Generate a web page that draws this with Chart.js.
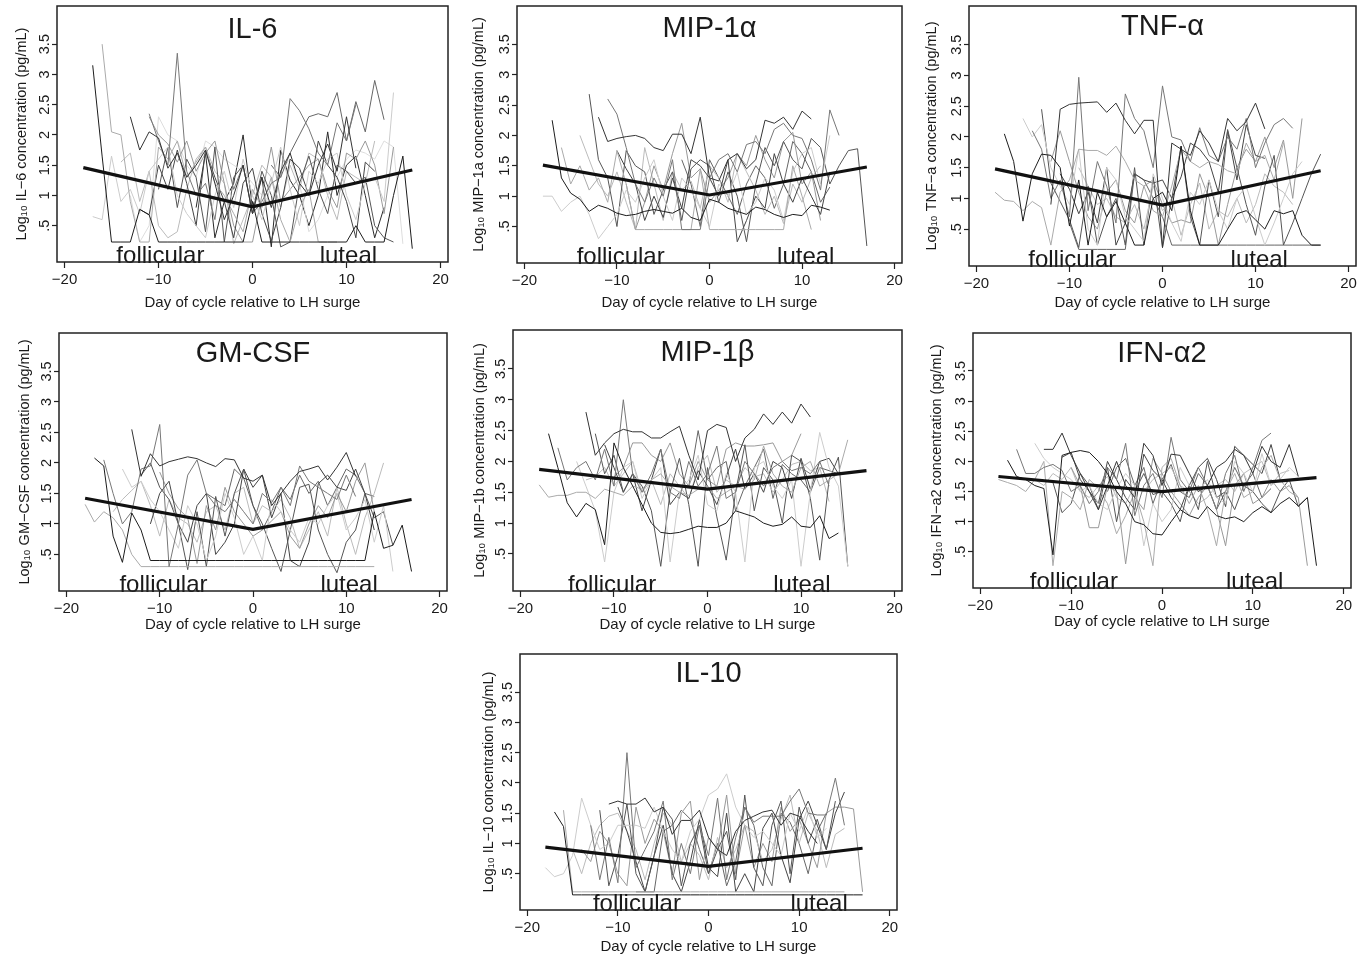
<!DOCTYPE html>
<html lang="en">
<head>
<meta charset="utf-8">
<title>Cytokines across the menstrual cycle</title>
<script src="https://cdn.jsdelivr.net/npm/chart.js@4.4.1/dist/chart.umd.min.js"></script>
<style>
  body { margin: 0; background: #fff; width: 1363px; height: 961px; overflow: hidden; position: relative; }
  canvas { position: absolute; }
</style>
</head>
<body>
<canvas id="c0"></canvas>
<canvas id="c1"></canvas>
<canvas id="c2"></canvas>
<canvas id="c3"></canvas>
<canvas id="c4"></canvas>
<canvas id="c5"></canvas>
<canvas id="c6"></canvas>
<script>
// ---- shared axis data
const X_TICKS = [-20, -10, 0, 10, 20];
const Y_TICKS = [0.5, 1, 1.5, 2, 2.5, 3, 3.5];
const TREND_DAYS = [-18, 0, 17];

const TITLES = ['IL-6', 'MIP-1\u03b1', 'TNF-\u03b1', 'GM-CSF', 'MIP-1\u03b2', 'IFN-\u03b12', 'IL-10'];
const Y_NAMES = ['IL\u22126', 'MIP\u22121a', 'TNF\u2212a', 'GM\u2212CSF', 'MIP\u22121b', 'IFN\u2212a2', 'IL\u221210'];

// ---- IL-6
const IL6_START = [-17, -13, -11, -16, -17, -10, -12, -11, -14, 2, -13, -6];
const IL6_LINES = [
  [3.15,1.65,0.23,0.23,0.23,0.77,0.68,0.23,0.23,0.23,0.23,0.23,0.23,0.23,0.23,0.23,0.23,0.9,0.23,0.23,0.23,0.23,0.23,0.23,0.23,0.23,0.23,0.23,0.5,0.23,0.23,0.23,1.0,1.65,0.12],
  [2.3,1.75,2.05,1.95,1.45,1.7,1.3,1.5,1.75,1.2,0.6,1.0,1.5,0.7,1.3,0.8,1.4,1.7,1.2,1.0,1.5,1.85,1.4,2.3,1.45],
  [2.35,1.9,1.5,3.35,1.4,1.0,1.2,0.6,1.75,1.1,1.5,0.7,0.9,1.2,1.3,2.6,2.4,2.1,1.7,1.5,2.2,1.9,2.5],
  [3.5,2.05,2.0,0.9,0.23,0.23,1.8,1.6,1.9,1.3,1.55,1.8,1.2,1.0,0.7,0.4,1.1,0.8,1.3,0.6,0.23,0.8,1.1,0.23,0.23,0.23],
  [0.65,0.6,1.65,0.9,1.1,0.7,1.4,1.6,1.8,1.0,0.7,0.5,0.3,1.0,1.4,0.8,1.6,1.0,0.6,1.2,1.8,1.1,0.5,1.4,1.2,1.6,1.7,1.0,0.6,1.2,1.3,0.9,2.7],
  [1.1,1.8,0.8,1.6,1.3,0.4,1.8,0.23,1.3,1.5,0.7,1.4,1.0,0.15,0.23,1.2,1.65,1.1,0.7,1.5,1.4,1.2,1.3,0.5,0.3,0.23],
  [0.77,0.68,1.5,1.1,1.75,1.2,0.5,1.75,1.3,0.9,0.3,1.2,1.45,0.7,0.25,0.8,1.6,1.45,1.0,1.9,1.5,1.3,0.9,0.3,1.55,1.4],
  [2.3,2.0,1.85,1.55,1.9,1.4,1.7,1.9,1.2,0.5,0.23,0.23,1.0,1.8,0.9,1.1,1.3,1.5,1.6,1.1,0.8,1.7,1.6,1.9,1.5,0.7,1.8],
  [1.55,1.7,0.9,1.4,0.5,0.3,0.4,1.1,1.6,1.8,1.4,1.2,0.2,0.6,1.0,1.5,1.3,0.8,1.5,1.1,1.7,1.6,1.0,0.6,1.4,1.3,1.2,1.9],
  [1.5,1.3,1.7,2.0,2.3,2.35,2.3,2.7,1.9,2.55,2.05,2.9,2.25],
  [1.0,0.23,0.5,2.3,2.0,1.9,1.5,1.3,1.9,1.8,1.6,1.5,1.4,1.2,1.0,0.9,1.4,1.6,1.2,0.4,0.6,1.0,1.3,1.6,1.75,1.7,1.6,1.9,1.8,0.2],
  [0.8,1.7,0.3,0.9,1.2,2.0,0.8,1.3,0.15,1.75,1.25,1.0,0.5,1.0,2.05,1.0,1.5,1.65,1.0,0.3,0.8]
];
const IL6_TREND = [1.46, 0.81, 1.42];

// ---- MIP-1alpha
const MIP1A_START = [-17, -12, -11, -16, -18, -13, -10, -9, -14, -3];
const MIP1A_LINES = [
  [2.25,1.3,1.05,0.95,0.75,0.85,0.8,0.72,0.68,0.7,0.75,0.78,0.75,0.72,0.8,0.65,0.6,0.95,0.9,0.8,0.75,0.7,0.82,0.78,0.7,0.65,0.7,0.68,0.85,0.82,0.77],
  [2.3,1.9,1.95,1.98,2.0,1.95,1.8,1.75,2.02,2.02,1.7,2.3,1.3,1.25,1.6,1.7,1.45,1.6,2.25,2.2,2.3,2.1,2.4,2.27],
  [2.6,2.35,1.8,1.2,0.9,1.3,1.0,1.6,0.45,0.45,0.45,1.3,1.6,1.7,1.4,1.85,1.9,1.7,2.1,2.2,2.0,1.95,1.6,1.1,2.42,2.0],
  [1.8,1.2,1.5,1.1,1.3,0.9,1.75,1.2,0.45,0.45,0.45,0.45,0.45,0.45,0.45,1.45,0.45,0.45,0.45,0.45,0.45,0.45,0.45,0.45,0.45,1.5,1.0,0.45],
  [1.0,1.0,0.75,0.9,1.0,0.7,0.3,0.5,0.7,1.1,0.9,1.3,1.6,1.0,0.6,1.3,1.1,0.8,0.5,1.2,1.0,1.4,0.7,0.9,1.3,1.1,0.6,1.4,1.7,1.8,1.2,2.0],
  [2.68,1.6,1.3,0.5,1.75,1.5,1.4,0.7,1.1,1.4,0.6,1.45,1.6,1.5,0.9,1.4,1.0,0.25,1.2,1.8,1.5,1.9,1.6,1.45,1.95,1.8,1.2,1.5,1.75,1.78,0.18],
  [1.75,1.45,1.2,0.6,1.0,0.65,1.3,0.8,1.6,1.5,1.3,1.0,1.6,0.25,0.6,1.0,0.8,1.7,1.2,0.9,1.3,1.0,0.7,1.4],
  [1.2,0.45,0.9,1.5,1.1,1.7,2.2,1.3,1.45,0.9,1.1,1.3,1.7,1.5,2.0,1.6,1.3,1.9,2.05,1.2,1.4,0.6],
  [2.0,1.6,1.2,1.0,1.4,0.9,0.45,1.8,1.2,0.6,1.4,1.1,1.25,0.8,1.5,1.3,0.9,1.7,1.4,1.1,0.7,1.0,0.55,1.2,0.9,1.3,1.5],
  [1.6,1.2,0.5,1.6,1.3,1.0,0.7,1.2,1.5,1.3,0.8,1.2,1.9,1.7,1.4,0.9,1.15]
];
const MIP1A_TREND = [1.51, 1.02, 1.48];

// ---- TNF-alpha
const TNFA_START = [-17, -12, -14, -18, -15, -13, -11, -12, -9, -10];
const TNFA_LINES = [
  [2.05,1.6,0.63,1.4,1.72,1.7,1.5,0.55,1.3,0.24,1.1,0.7,0.95,0.6,0.24,0.24,1.0,1.1,0.8,1.85,0.8,0.24,0.24,0.24,0.5,0.75,0.8,0.65,0.5,0.8,0.75,0.8,0.4,0.24,0.24],
  [0.9,2.45,2.53,2.55,2.56,2.57,2.4,2.55,2.27,2.05,2.27,2.27,0.2,1.9,1.8,1.7,2.1,1.9,1.6,2.3,2.1,2.25,2.55,2.13],
  [2.1,1.8,1.0,1.3,0.7,2.97,0.8,1.6,1.2,0.6,2.7,2.3,2.1,1.5,2.83,2.0,1.95,1.6,2.15,1.7,1.6,2.0,1.8,2.3,1.5,1.9,2.2,2.3,2.14],
  [1.1,0.97,0.95,0.8,0.95,0.85,0.24,1.1,1.3,1.8,1.78,1.78,1.7,1.85,1.6,1.3,1.2,0.8,0.7,1.2,1.8,1.6,1.5,1.6,1.55,1.45,1.4,1.9,1.6,1.7,1.3,1.9],
  [2.3,2.0,2.2,1.5,1.2,0.9,1.8,0.5,0.24,1.5,1.3,0.7,0.5,0.3,1.4,1.0,0.6,0.3,1.1,0.9,1.3,0.8,0.5,1.0,1.2,0.7,0.24,0.6,1.0,1.4,1.6],
  [2.45,1.25,0.95,0.65,0.2,1.2,0.24,0.7,1.0,0.24,1.5,0.24,1.35,0.2,1.0,1.85,0.7,0.24,1.3,0.7,2.12,1.5,0.9,0.4,1.2,1.7,0.24,0.6,1.0,1.4,1.72],
  [1.4,1.15,0.75,1.1,0.6,1.5,0.24,0.6,1.4,1.3,1.25,1.3,1.0,1.35,1.9,1.8,1.6,1.1,2.1,1.3,2.2,1.7,1.65],
  [1.6,2.1,1.6,1.1,0.7,0.5,1.1,1.3,0.8,0.6,1.2,1.3,0.9,0.6,0.65,0.6,1.4,1.0,0.24,0.9,1.5,1.8,1.6,2.0,1.5,1.95,1.0,2.3],
  [1.5,1.2,0.9,1.0,0.7,0.6,0.9,0.5,1.2,0.8,1.0,0.4,0.9,1.25,0.5,0.8,0.7,1.0,0.6,0.9,1.4,1.2,1.1,0.9],
  [0.6,0.17,0.17,0.17,0.17,0.17,0.17,1.4,1.3,1.0,0.7,0.24,0.24,0.24,0.24,0.24,0.24,0.24,0.24,0.24,0.24,0.24,0.24,0.24,0.24,0.24,0.24,0.24]
];
const TNFA_TREND = [1.48, 0.89, 1.45];

// ---- GM-CSF
const GMCSF_START = [-17, -13, -16, -18, -14, -12, -11, -10, -15, -5];
const GMCSF_LINES = [
  [2.08,1.95,0.8,0.37,1.18,0.9,0.4,0.4,0.4,0.4,0.4,0.4,0.4,0.4,0.4,0.4,0.4,0.4,0.4,0.4,0.4,0.4,0.4,0.4,0.4,0.4,0.4,0.4,0.4,0.4,1.2,0.6,0.65,0.98,0.22],
  [2.55,1.78,2.15,1.95,2.02,2.06,2.1,2.07,2.0,1.94,2.07,2.05,1.75,1.7,1.8,1.3,1.5,1.7,1.86,1.9,1.95,1.72,1.93,2.17,1.78],
  [2.05,1.5,1.0,1.2,1.9,1.95,2.63,0.3,1.0,1.8,2.05,1.5,1.3,1.2,1.4,1.2,1.0,1.5,1.35,1.6,1.3,1.95,1.7,1.6,1.5,1.4,1.8,1.45],
  [1.32,1.03,1.2,1.1,0.9,0.5,0.3,0.3,0.3,0.3,0.3,0.3,0.3,0.3,0.3,0.3,0.3,0.3,0.3,0.3,0.3,0.3,0.3,0.3,0.3,0.3,0.3,0.3,0.3,0.3,0.3,0.3],
  [1.9,1.6,1.7,1.4,1.2,0.9,0.6,1.3,1.0,0.4,0.8,1.5,1.1,0.5,0.8,0.4,1.4,1.2,0.9,0.7,1.1,1.0,1.3,1.5,0.9,1.1,1.4,0.7,1.3,0.22],
  [1.8,2.0,1.6,1.4,1.0,0.25,1.2,0.3,1.45,0.8,1.5,1.9,1.3,1.0,0.6,0.22,0.9,1.6,1.65,0.9,0.5,0.2,0.7,0.9,1.5,1.1,1.2,0.65],
  [1.0,1.5,1.7,1.0,0.7,1.3,1.5,0.5,0.7,1.0,1.9,1.6,1.8,1.1,1.5,0.4,0.3,0.7,1.66,1.8,1.6,1.55,1.9,1.5,0.9],
  [1.85,1.5,1.25,1.1,0.35,1.3,0.9,1.6,1.2,1.0,0.8,0.9,1.05,1.2,0.8,0.6,1.0,1.3,1.1,1.5,1.2,1.7,2.0,1.2],
  [1.2,1.4,1.55,1.7,1.3,0.8,1.4,1.1,1.0,0.7,1.2,1.3,0.9,1.5,1.6,1.0,1.3,1.2,1.4,1.1,0.6,0.9,1.2,0.8,1.6,1.0,0.5,1.1,1.5,2.0],
  [1.5,1.4,1.3,1.9,1.75,1.3,0.9,1.2,1.6,1.4,1.8,1.5,1.7,1.3,1.6,1.9,1.8,1.5,1.45]
];
const GMCSF_TREND = [1.42, 0.91, 1.40];

// ---- MIP-1beta
const MIP1B_START = [-17, -13, -16, -18, -14, -12, -11, -10, -13, -2];
const MIP1B_LINES = [
  [2.45,1.9,1.33,1.1,1.32,1.22,0.65,2.3,1.9,1.6,1.3,1.0,0.85,0.83,0.85,0.9,0.95,0.93,0.93,1.0,1.2,1.15,1.1,1.0,0.95,0.98,1.1,0.95,0.93,1.12,0.75,0.84],
  [2.8,2.1,2.3,2.45,2.52,2.48,2.48,2.38,2.38,2.48,2.57,2.1,1.7,2.5,2.6,2.55,2.0,2.38,2.52,2.77,2.6,2.8,2.62,2.93,2.72],
  [2.22,1.7,1.9,2.0,1.7,2.2,1.6,3.0,1.8,1.5,1.8,2.2,1.5,1.4,2.0,1.6,1.8,2.25,1.4,1.5,2.0,1.8,1.6,1.9,2.0,1.85,1.9,1.8,2.0,1.6],
  [1.62,1.42,1.45,1.45,1.5,1.5,1.4,1.55,1.5,1.45,1.6,1.55,1.7,1.8,1.6,1.5,1.45,1.55,1.6,1.4,1.5,1.6,1.55,1.7,2.25,1.8,1.6,1.5,1.9,2.0,1.6,1.7,1.8,2.35],
  [2.0,1.6,1.2,0.37,1.5,1.9,2.0,1.4,1.7,1.9,0.37,1.5,1.7,2.1,1.3,1.2,1.8,1.5,0.37,1.9,2.0,1.6,1.4,1.7,0.3,1.5,2.47,1.9,1.6,0.3],
  [2.45,1.8,2.1,1.5,1.8,1.6,1.2,0.3,1.5,2.05,1.3,0.3,1.9,1.1,0.4,1.5,2.27,1.2,1.9,1.7,1.0,2.1,2.0,1.4,0.4,1.7,2.07,0.3],
  [2.27,1.9,1.5,1.8,1.2,1.7,2.2,1.3,1.5,1.4,1.85,1.6,1.3,1.75,2.2,1.55,1.8,1.5,2.0,1.9,1.4,2.05,1.55,2.0,2.05,1.8],
  [1.75,1.9,2.3,2.3,2.1,2.0,2.3,1.8,1.6,2.0,1.7,1.6,2.2,2.3,2.25,2.25,2.27,2.3,2.0,2.1,2.45],
  [1.7,1.75,1.9,1.6,1.8,2.0,1.5,1.7,1.3,1.8,1.6,1.4,1.9,2.1,1.5,1.7,1.6,1.9,1.75,1.8,1.5,1.7,1.95,2.0,1.85,1.9,1.35],
  [1.6,2.5,1.7,1.9,2.0,1.2,1.6,1.9,2.2,1.4,1.95,1.8,1.7,1.5,1.9,1.85,1.8]
];
const MIP1B_TREND = [1.87, 1.55, 1.85];

// ---- IFN-alpha2
const IFNA2_START = [-17, -13, -16, -18, -14, -12, -11, -10, -14, -6];
const IFNA2_LINES = [
  [2.02,1.75,1.7,1.6,1.55,0.45,2.1,2.15,2.18,2.15,2.0,1.8,1.5,1.3,1.0,0.95,0.8,0.78,1.0,1.2,1.1,1.05,1.25,1.1,1.05,1.08,1.0,1.15,1.25,1.15,1.3,1.4,1.26,1.4,0.27],
  [2.2,2.2,2.47,2.1,1.8,1.5,1.2,1.6,2.0,1.6,1.4,2.3,2.1,1.6,2.12,2.1,1.8,1.5,1.6,1.9,2.0,2.2,2.1,1.8,2.25,2.0,1.9,2.28,1.75],
  [2.2,1.8,1.8,1.9,1.95,1.85,1.5,1.6,1.3,1.5,1.9,1.7,2.3,1.1,1.6,1.8,1.4,2.4,1.7,1.5,1.9,1.6,1.2,1.8,2.1,1.5,1.9,2.35,2.47],
  [1.7,1.65,1.6,1.5,1.7,2.0,0.27,1.5,1.4,1.2,1.7,1.55,1.3,0.8,1.1,1.5,1.0,0.27,1.9,2.05,1.6,1.3,1.6,1.2,0.6,1.5,1.8,1.4,1.5,1.9,2.1,1.7,1.5,1.4],
  [2.3,2.05,1.9,1.8,1.7,1.5,1.6,1.3,1.2,1.55,1.8,1.6,0.6,1.3,1.0,1.2,1.9,1.6,1.5,1.7,1.4,1.3,2.0,1.8,1.5,2.13,1.6,1.7,1.9,1.75],
  [1.65,1.15,1.3,1.8,1.6,1.2,1.9,1.0,1.7,1.5,1.8,1.45,1.5,1.3,1.0,1.6,1.2,2.0,1.4,1.5,1.2,1.6,1.5,1.3,1.15,1.5,1.7,1.25,1.4],
  [2.07,2.15,1.7,1.5,1.3,2.0,1.7,1.4,1.2,2.12,1.85,1.7,1.4,1.2,1.6,1.9,2.05,1.7,1.25,2.25,2.1,1.95,1.8,2.28,1.7],
  [1.9,1.6,0.9,0.9,1.6,1.5,0.3,1.4,1.2,2.05,1.8,1.5,1.3,1.1,1.4,1.6,1.2,0.6,1.6,1.8,1.3,1.4,1.7,1.5,1.6,1.4,0.27],
  [1.7,1.6,1.8,1.7,1.9,1.5,1.4,1.6,1.75,1.4,1.3,1.6,1.5,1.7,1.8,1.9,1.6,1.5,1.3,1.4,1.6,1.7,1.5,1.8,1.9,2.0,1.6,1.8,1.85],
  [1.5,1.9,2.05,1.6,1.9,1.3,1.7,1.95,1.5,1.4,1.8,1.6,1.2,1.5,1.9,1.6,1.8,1.4,1.55]
];
const IFNA2_TREND = [1.75, 1.50, 1.73];

// ---- IL-10
const IL10_START = [-17, -11, -13, -16, -18, -12, -10, -14, -15, -8];
const IL10_LINES = [
  [1.52,1.28,0.15,0.15,0.15,0.15,0.15,0.15,0.15,0.15,0.15,0.15,0.15,0.15,0.15,0.15,0.15,0.15,0.15,0.15,0.15,0.15,0.15,0.15,0.15,0.15,0.15,0.15,0.15,0.15,0.15,0.15,0.15,0.15,0.15],
  [1.65,1.7,1.65,1.65,1.75,1.52,1.6,1.15,1.38,1.38,1.55,1.1,0.9,0.8,1.2,1.38,1.45,1.52,1.55,1.3,1.5,1.45,1.2,1.0],
  [1.3,0.4,1.1,0.35,2.5,0.6,0.9,1.2,1.7,0.4,1.0,0.5,1.3,0.8,1.75,0.4,1.1,1.6,1.35,1.45,1.45,1.45,1.7,1.9,1.5,1.47,1.47,2.08,1.3],
  [1.55,0.2,0.2,0.2,0.2,0.2,0.2,0.2,0.2,0.2,0.2,0.2,0.2,0.2,0.2,0.2,0.2,0.2,0.2,0.2,0.2,0.2,0.2,0.2,0.2,0.2,0.2,0.2,0.2,0.2,0.2,0.2],
  [0.6,0.45,0.5,0.8,1.75,1.3,0.9,1.0,1.3,1.3,1.3,1.25,1.6,1.2,0.9,0.7,1.2,1.4,1.8,1.9,2.15,1.6,1.3,1.1,1.2,1.0,0.8,1.5,1.2,1.6,1.1,1.25],
  [1.55,0.3,0.8,1.65,0.5,0.2,0.8,1.6,1.4,0.3,1.0,1.3,0.5,0.9,1.2,0.4,1.8,0.6,0.3,1.3,1.7,0.5,1.6,1.0,1.4,0.9,1.7],
  [1.6,1.2,0.7,0.2,0.8,1.3,0.5,0.2,0.7,1.4,0.6,0.45,1.5,0.2,0.5,0.2,1.25,1.5,0.8,0.35,1.4,1.7,1.3,0.9,1.5,1.85],
  [0.9,0.7,1.2,1.0,0.5,0.3,1.6,1.0,1.4,1.2,0.5,1.5,1.7,0.4,1.1,0.9,1.8,0.5,1.3,0.6,1.0,0.7,1.6,1.2,1.4,1.0,0.6,1.5,1.6,1.6,1.57,0.2],
  [0.9,0.5,1.0,1.3,1.45,1.5,1.2,0.9,0.4,1.0,1.5,1.3,0.7,1.0,0.8,0.4,1.1,0.6,0.9,1.3,1.2,0.7,0.9,1.4,1.8,1.0,1.5,1.2,0.6,1.15,1.25],
  [0.2,0.2,0.2,1.2,1.3,1.55,1.4,0.9,0.5,1.0,0.3,0.7,1.6,1.3,0.6,0.3,1.5,1.35,1.0,0.5,1.2,1.5]
];
const IL10_TREND = [0.94, 0.62, 0.92];

const PANEL_DATA = [
  [IL6_START, IL6_LINES, IL6_TREND],
  [MIP1A_START, MIP1A_LINES, MIP1A_TREND],
  [TNFA_START, TNFA_LINES, TNFA_TREND],
  [GMCSF_START, GMCSF_LINES, GMCSF_TREND],
  [MIP1B_START, MIP1B_LINES, MIP1B_TREND],
  [IFNA2_START, IFNA2_LINES, IFNA2_TREND],
  [IL10_START, IL10_LINES, IL10_TREND]
];

// ---- layout / style (kept apart from the data)
// plot box of each panel on the page: left, top, right, bottom
const BOXES = [
  [57, 6, 448, 262], [517, 6, 902, 263], [969, 6, 1356, 266],
  [59, 333, 447, 591], [513, 330, 902, 591], [973, 333, 1351, 588],
  [520, 654, 897, 910]
];
const TITLE_DROP = [32, 31, 29, 29, 31, 29, 28];
const FOLL_X = [-9.8, -9.6, -9.7, -9.6, -10.2, -9.7, -7.9];
const LUT_X = [10.2, 10.4, 10.4, 10.3, 10.1, 10.2, 12.2];
const XT_PAD = [2, 3, 6, 9, 9, 9, 6];
const YT_PAD = [12.6, 8.9, 10, 13.3, 14.3, 11.6, 15.9];
const SHADES = ['#1c1c1c', '#333333', '#777777', '#aaaaaa', '#cccccc', '#555555', '#444444', '#999999', '#bbbbbb', '#666666', '#dddddd', '#2a2a2a'];
const FONT = '"Liberation Sans", Arial, Helvetica, sans-serif';
const INK = '#1a1a1a';
const Y_AXIS_W = 56, X_AXIS_H = 52, PAD_T = 2, PAD_R = 2;

Chart.defaults.font.family = FONT;

// title, phase labels and the closed frame around the plot
const panelDecor = {
  id: 'panelDecor',
  afterDatasetsDraw(chart, args, opts) {
    const ctx = chart.ctx, a = chart.chartArea, x = chart.scales.x;
    ctx.save();
    ctx.fillStyle = INK;
    ctx.textAlign = 'center';
    ctx.textBaseline = 'alphabetic';
    ctx.font = '29px ' + FONT;
    ctx.fillText(opts.title, (a.left + a.right) / 2, a.top + opts.drop);
    ctx.font = '24px ' + FONT;
    ctx.fillText('follicular', x.getPixelForValue(opts.foll), a.bottom + 1);
    ctx.fillText('luteal', x.getPixelForValue(opts.lut), a.bottom + 1);
    ctx.restore();
  },
  afterDraw(chart) {
    const ctx = chart.ctx, a = chart.chartArea;
    ctx.save();
    ctx.strokeStyle = '#222';
    ctx.lineWidth = 1.5;
    ctx.strokeRect(a.left, a.top, a.right - a.left, a.bottom - a.top);
    ctx.restore();
  }
};

function makePanel(i) {
  const [starts, lines, trend] = PANEL_DATA[i];
  const box = BOXES[i];
  const cv = document.getElementById('c' + i);
  cv.width = (box[2] - box[0]) + Y_AXIS_W + PAD_R;
  cv.height = (box[3] - box[1]) + PAD_T + X_AXIS_H;
  cv.style.left = (box[0] - Y_AXIS_W) + 'px';
  cv.style.top = (box[1] - PAD_T) + 'px';

  const datasets = [{
    data: TREND_DAYS.map((d, k) => ({x: d, y: trend[k]})),
    borderColor: '#111', borderWidth: 3.2, pointRadius: 0, tension: 0
  }];
  lines.forEach((vals, j) => {
    datasets.push({
      data: vals.map((v, k) => ({x: starts[j] + k, y: v})),
      borderColor: SHADES[j % SHADES.length], borderWidth: 1, pointRadius: 0, tension: 0
    });
  });

  const tickGrid = {display: true, drawOnChartArea: false, drawTicks: true, tickColor: '#222', tickWidth: 1.2};

  new Chart(cv, {
    type: 'line',
    data: {datasets: datasets},
    options: {
      responsive: false,
      animation: false,
      layout: {padding: {left: 0, top: PAD_T, right: PAD_R, bottom: 0}},
      plugins: {
        legend: {display: false},
        tooltip: {enabled: false},
        panelDecor: {title: TITLES[i], drop: TITLE_DROP[i], foll: FOLL_X[i], lut: LUT_X[i]}
      },
      scales: {
        x: {
          type: 'linear', min: -20.8, max: 20.8,
          afterBuildTicks: s => { s.ticks = X_TICKS.map(v => ({value: v})); },
          afterFit: s => { s.height = X_AXIS_H; s.paddingLeft = 0; s.paddingRight = 0; },
          border: {display: false},
          grid: Object.assign({tickLength: 6}, tickGrid),
          ticks: {
            autoSkip: false, maxRotation: 0, padding: 3, color: INK, font: {size: 15},
            callback: v => v < 0 ? '\u2212' + Math.abs(v) : String(v)
          },
          title: {
            display: true, text: 'Day of cycle relative to LH surge', color: INK,
            font: {size: 15}, padding: {top: 0, bottom: XT_PAD[i]}
          }
        },
        y: {
          type: 'linear', min: -0.1, max: 4.13,
          afterBuildTicks: s => { s.ticks = Y_TICKS.map(v => ({value: v})); },
          afterFit: s => { s.width = Y_AXIS_W; s.paddingTop = 0; s.paddingBottom = 0; },
          border: {display: false},
          grid: Object.assign({tickLength: 5}, tickGrid),
          ticks: {
            autoSkip: false, minRotation: 90, maxRotation: 90, crossAlign: 'center',
            padding: -3, color: INK, font: {size: 14.5},
            callback: v => v === 0.5 ? '.5' : String(v)
          },
          title: {
            display: true, text: 'Log\u2081\u2080 ' + Y_NAMES[i] + ' concentration (pg/mL)', color: INK,
            font: {size: 14.5}, padding: {top: YT_PAD[i], bottom: 0}
          }
        }
      }
    },
    plugins: [panelDecor]
  });
}

for (let i = 0; i < 7; i++) makePanel(i);
</script>
</body>
</html>
